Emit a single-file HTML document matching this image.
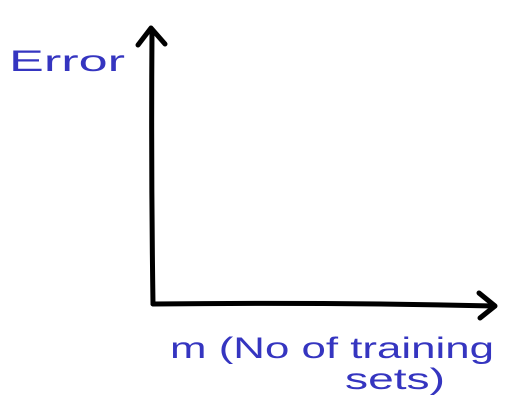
<!DOCTYPE html>
<html>
<head>
<meta charset="utf-8">
<style>
  html,body{margin:0;padding:0;background:#fff;}
  svg{display:block;}
  text{font-family:"Liberation Sans",sans-serif;fill:#3535c0;}
</style>
</head>
<body>
<svg width="521" height="401" viewBox="0 0 521 401">
  <g stroke="#000" stroke-width="5" fill="none" stroke-linecap="round" stroke-linejoin="round">
    <path d="M152,30 Q151,170 153,304"/>
    <path d="M138,45 L151,28 L165,44"/>
    <path d="M153,304 Q320,302 494,306"/>
    <path d="M479,293 L495,306 L480,318"/>
  </g>
  <text x="9" y="71" font-size="30" textLength="116" lengthAdjust="spacingAndGlyphs">Error</text>
  <text x="170" y="358" font-size="30" textLength="324" lengthAdjust="spacingAndGlyphs">m (No of training</text>
  <text x="345" y="389" font-size="30" textLength="100" lengthAdjust="spacingAndGlyphs">sets)</text>
</svg>
</body>
</html>
